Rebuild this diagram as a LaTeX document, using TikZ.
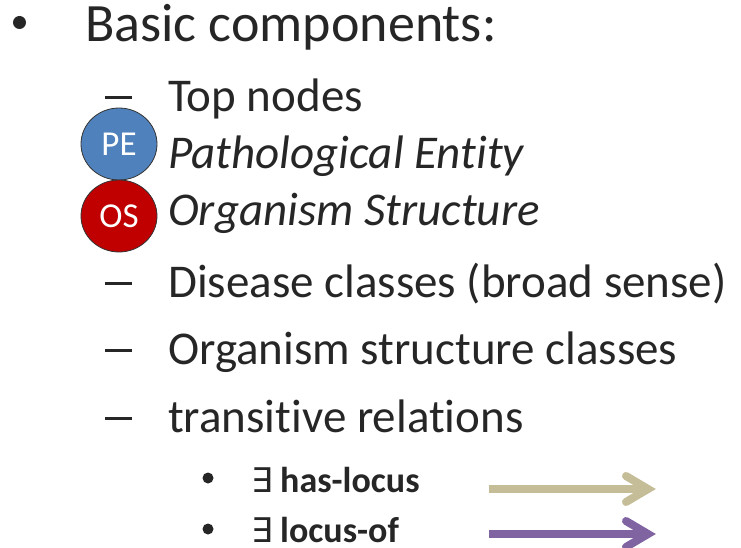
\documentclass[tikz,border=0pt]{standalone}
\usepackage{fontspec}
\setmainfont{Carlito}[Ligatures=NoCommon, RawFeature=-liga]
\newfontfamily\symfont{DejaVu Sans}
\usetikzlibrary{calc,shapes.geometric}
\definecolor{ink}{HTML}{262626}
\definecolor{peblue}{HTML}{4F81BD}
\definecolor{osred}{HTML}{C00000}
\definecolor{relhas}{HTML}{C4BD97}
\definecolor{relof}{HTML}{8064A2}
\tikzset{
  lvlone/.style={anchor=base west, inner sep=0pt, text=ink,
    font=\fontsize{54}{54}\selectfont},
  lvltwo/.style={anchor=base west, inner sep=0pt, text=ink,
    font=\fontsize{47}{47}\selectfont},
  lvlthree/.style={anchor=base west, inner sep=0pt, text=ink,
    font=\fontsize{36}{36}\selectfont\bfseries},
  quant/.style={anchor=base west, inner sep=0pt, text=ink,
    font=\fontsize{34}{34}\selectfont\symfont},
  dashmark/.style={fill=ink},
  dotmark/.style={fill=ink, circle, inner sep=0pt},
  topnode/.style={ellipse, draw=black!80, line width=0.8pt,
    minimum width=76pt, minimum height=72pt, inner sep=0pt,
    text=white, font=\fontsize{35}{35}\selectfont},
  relshaft/.style={line width=8pt, line cap=butt},
  relbarb/.style={line width=8pt, line cap=round, line join=miter},
}
\begin{document}
\begin{tikzpicture}[x=1pt, y=-1pt]
\useasboundingbox (0,0) rectangle (741,548);

% first level
\node[dotmark, minimum size=13pt] (b1) at (19.5,22.5) {};
\node[lvlone] (basic) at (85,42) {Basic components:};

% second level dashes
\fill[dashmark] (105,96.5) rectangle (132,99.5);
\fill[dashmark] (105,281.5) rectangle (132,284.5);
\fill[dashmark] (105,348.5) rectangle (132,351.5);
\fill[dashmark] (105,416.5) rectangle (132,419.5);

\node[lvltwo] (top) at (168,112) {Top nodes};
\node[lvltwo] (pe-text) at (168,168) {\itshape Pathological Entity};
\node[lvltwo] (os-text) at (168,225) {\itshape Organism Structure};
\node[lvltwo] (dis) at (168,297) {Disease classes (broad sense)};
\node[lvltwo] (osc) at (168,364) {Organism structure classes};
\node[lvltwo] (trans) at (168,432) {transitive relations};

% top node markers
\node[topnode, fill=peblue] (pe) at (119,144) {PE};
\node[topnode, fill=osred] (os) at (119,216) {OS};

% third level
\node[dotmark, minimum size=11pt] (b2) at (208,478) {};
\node[dotmark, minimum size=11pt] (b3) at (208,529) {};
\node[quant] (ex1) at (251,492) {∃};
\node[quant] (ex2) at (251,542) {∃};
\node[lvlthree] (has) at (280,492) {has-locus};
\node[lvlthree] (of) at (280,542) {locus-of};

% relation arrows
\coordinate (has-from) at (489,489);
\coordinate (has-to) at (648,489);
\coordinate (of-from) at (489,534);
\coordinate (of-to) at (648,534);
\draw[relshaft, relhas] (has-from) -- (has-to);
\draw[relbarb, relhas] ($(has-to)+(-22,-13)$) -- (has-to) -- ($(has-to)+(-22,13)$);
\draw[relshaft, relof] (of-from) -- (of-to);
\draw[relbarb, relof] ($(of-to)+(-22,-13)$) -- (of-to) -- ($(of-to)+(-22,13)$);
\end{tikzpicture}
\end{document}
